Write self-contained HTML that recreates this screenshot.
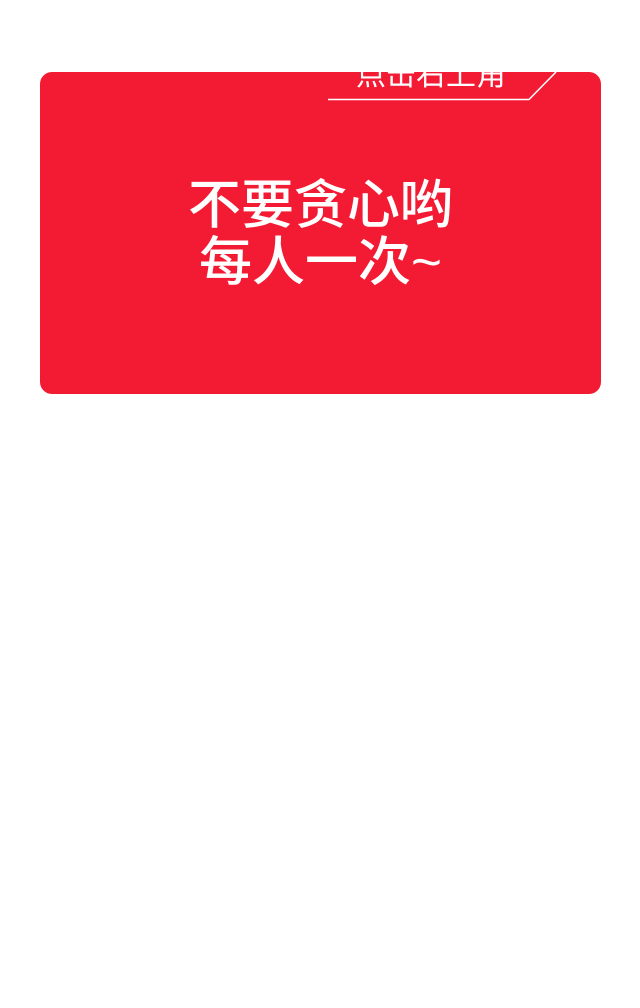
<!DOCTYPE html>
<html><head><meta charset="utf-8"><style>
html,body{margin:0;padding:0;background:#fff;width:640px;height:1008px;overflow:hidden}
.card{position:absolute;left:40px;top:72px;width:561px;height:322px;background:#f31b33;border-radius:12px;overflow:hidden}
.tip{position:absolute;left:316px;top:-13px;font:30px "Liberation Sans","Noto Sans CJK SC",sans-serif;color:#fff;white-space:nowrap;line-height:34px}
.main{position:absolute;left:0;width:561px;top:105px;text-align:center;color:#fff;font:53px/57px "Liberation Sans","Noto Sans CJK SC",sans-serif;font-weight:500}
svg{position:absolute;left:0;top:0}
</style></head><body>
<div class="card">
<div class="tip">点击右上角</div>
<svg width="561" height="322"><polyline points="288,27.5 489,27.5 516,0" fill="none" stroke="#fff" stroke-width="1.5"/></svg>
<div class="main">不要贪心哟<br>每人一次~</div>
</div>
</body></html>
